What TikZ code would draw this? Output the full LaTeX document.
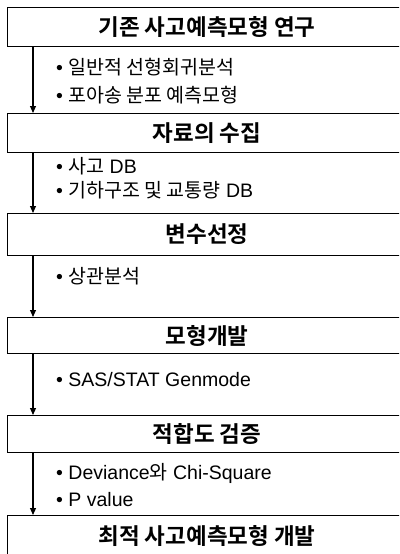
\documentclass[tikz,border=0pt]{standalone}
\usepackage{fontspec}
\setmainfont{Liberation Sans}
\newfontfamily\kr{Noto Sans CJK KR}
\newfontfamily\krb{Noto Sans CJK KR Bold}
\usetikzlibrary{arrows.meta}
\begin{document}
\begin{tikzpicture}[x=1pt,y=-1pt,
  stagebox/.style={draw, line width=1.1pt, minimum width=403pt, inner sep=0pt, anchor=north west,
    font=\krb\fontsize{22.5}{24}\selectfont},
  itemtxt/.style={anchor=west, inner sep=0pt, font=\fontsize{19.5}{21}\selectfont},
  arr/.style={line width=1.1pt, -{Triangle[length=7pt,width=6pt]}}]
\useasboundingbox (0,0) rectangle (399,554);
\clip (0,0) rectangle (399,554);
\node[stagebox, minimum height=39pt] (b1) at (7,7) {\hspace*{-4pt}기존 사고예측모형 연구};
\node[stagebox, minimum height=39pt] (b2) at (7,113) {\hspace*{-4pt}자료의 수집};
\node[stagebox, minimum height=42pt] (b3) at (7,213) {\hspace*{-4pt}변수선정};
\node[stagebox, minimum height=36pt] (b4) at (7,317) {\hspace*{-4pt}모형개발};
\node[stagebox, minimum height=37pt] (b5) at (7,415) {\hspace*{-4pt}적합도 검증};
\node[stagebox, minimum height=45pt] (b6) at (7,515) {\hspace*{-4pt}\raisebox{6pt}{최적 사고예측모형 개발}};
\node[itemtxt] (t1) at (56,67) {• {\kr 일반적 선형회귀분석}};
\node[itemtxt] (t2) at (56,95) {• {\kr 포아송 분포 예측모형}};
\node[itemtxt] (t3) at (56,166) {• {\kr 사고} DB};
\node[itemtxt] (t4) at (56,190) {• {\kr 기하구조 및 교통량} DB};
\node[itemtxt] (t5) at (56,276) {• {\kr 상관분석}};
\node[itemtxt] (t6) at (56,380) {• SAS/STAT Genmode};
\node[itemtxt] (t7) at (56,473) {• Deviance{\kr 와} Chi-Square};
\node[itemtxt] (t8) at (56,500) {• P value};
\foreach \a/\b in {b1/b2,b2/b3,b3/b4,b4/b5,b5/b6}
  \draw[arr] ([xshift=26pt]\a.south west) -- ([xshift=26pt]\b.north west);
\end{tikzpicture}
\end{document}
